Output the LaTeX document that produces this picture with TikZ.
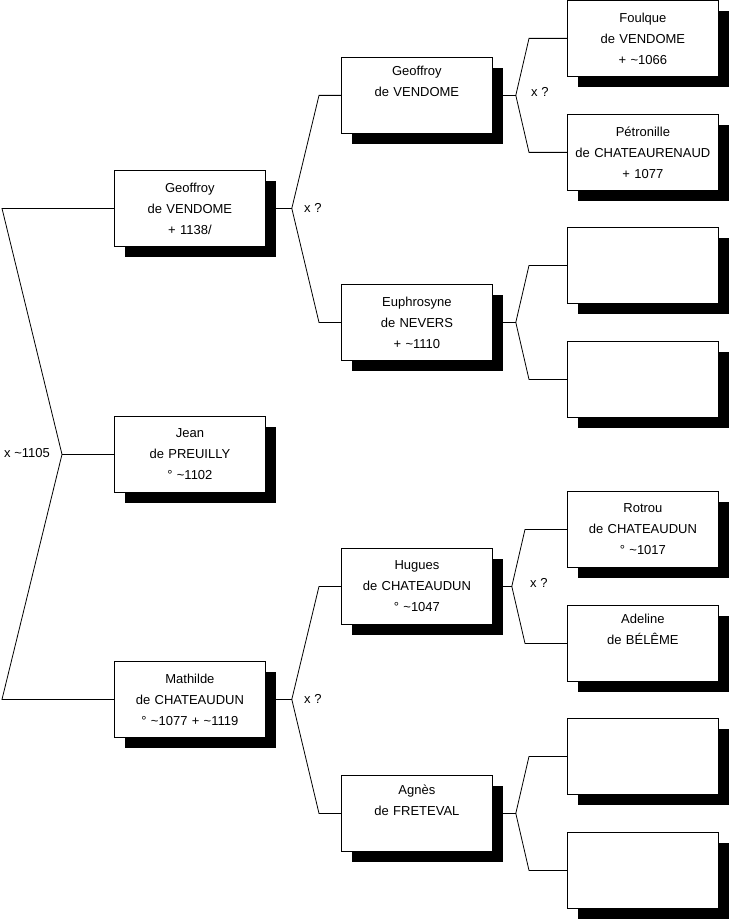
\documentclass[tikz,border=0pt]{standalone}
\usepackage{fontspec}
\setmainfont{Liberation Sans}
\usetikzlibrary{shadows}
\begin{document}
\begin{tikzpicture}[
  x=1pt, y=-1pt,
  every node/.style={font=\fontsize{13}{21}\selectfont},
  person/.style={draw, fill=white, anchor=north west, text width=145pt, inner sep=3pt,
    minimum height=76pt, align=center, line width=0.8pt,
    general shadow={fill=black, shadow xshift=11pt, shadow yshift=-11pt}},
  link/.style={line width=0.8pt},
  union/.style={anchor=west, inner sep=0pt}
]
\useasboundingbox (0,0) rectangle (731,920);
% generation 1
\node[person] (g1) at (114,170) {Geoffroy\\de VENDOME\\+ 1138/};
\node[person] (j1) at (114,416) {Jean\\de PREUILLY\\° \textasciitilde1102};
\node[person] (m1) at (114,661) {Mathilde\\de CHATEAUDUN\\° \textasciitilde1077 + \textasciitilde1119};
% generation 2
\node[person] (g2) at (341,57) {Geoffroy\\de VENDOME\\\strut};
\node[person] (e2) at (341,284) {Euphrosyne\\de NEVERS\\+ \textasciitilde1110};
\node[person] (h2) at (341,548) {Hugues\\de CHATEAUDUN\\° \textasciitilde1047};
\node[person] (a2) at (341,775) {Agnès\\de FRETEVAL\\\strut};
% generation 3
\node[person] (f1) at (567,0) {Foulque\\de VENDOME\\+ \textasciitilde1066};
\node[person] (f2) at (567,114) {Pétronille\\de CHATEAURENAUD\\+ 1077};
\node[person] (f3) at (567,227) {};
\node[person] (f4) at (567,341) {};
\node[person] (f5) at (567,491) {Rotrou\\de CHATEAUDUN\\° \textasciitilde1017};
\node[person] (f6) at (567,605) {Adeline\\de BÉLÊME\\\strut};
\node[person] (f7) at (567,718) {};
\node[person] (f8) at (567,832) {};
% stubs to the forks
\draw[link] (j1.west) -- ++(-52,0) coordinate (k0);
\draw[link] (g1.east) -- ++(26,0) coordinate (k1);
\draw[link] (m1.east) -- ++(26,0) coordinate (k4);
\draw[link] (g2.east) -- ++(23,0) coordinate (k2);
\draw[link] (e2.east) -- ++(23,0) coordinate (k3);
\draw[link] (h2.east) -- ++(19,0) coordinate (k5);
\draw[link] (a2.east) -- ++(23,0) coordinate (k6);
% parents
\draw[link] (g1.west) -- ++(-112,0) -- (k0) -- ([xshift=-112pt]m1.west) -- (m1.west);
\draw[link] (g2.west) -- ++(-22,0) -- (k1) -- ([xshift=-22pt]e2.west) -- (e2.west);
\draw[link] (h2.west) -- ++(-22,0) -- (k4) -- ([xshift=-22pt]a2.west) -- (a2.west);
\draw[link] (f1.west) -- ++(-38,0) -- (k2) -- ([xshift=-38pt]f2.west) -- (f2.west);
\draw[link] (f3.west) -- ++(-38,0) -- (k3) -- ([xshift=-38pt]f4.west) -- (f4.west);
\draw[link] (f5.west) -- ++(-42,0) -- (k5) -- ([xshift=-42pt]f6.west) -- (f6.west);
\draw[link] (f7.west) -- ++(-38,0) -- (k6) -- ([xshift=-38pt]f8.west) -- (f8.west);
% unions
\node[union] (u0) at (4,453.5) {x \textasciitilde1105};
\node[union] (u1) at (304,208) {x ?};
\node[union] (u2) at (531,92) {x ?};
\node[union] (u4) at (304,699) {x ?};
\node[union] (u5) at (530,583) {x ?};
\end{tikzpicture}
\end{document}
